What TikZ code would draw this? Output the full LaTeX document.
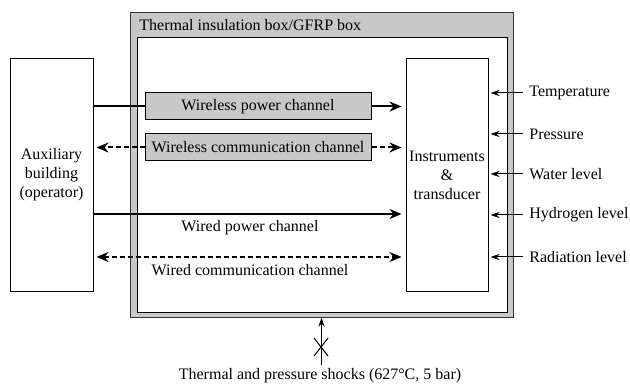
\documentclass[tikz,border=0pt]{standalone}
\usepackage{fontspec}
\setmainfont{Liberation Serif}
\usetikzlibrary{positioning,arrows.meta}
\definecolor{boxgray}{RGB}{200,200,200}

\begin{document}
\begin{tikzpicture}[x=0.5pt,y=-0.5pt,>={Stealth[length=6pt,width=5pt]},font=\fontsize{8}{9.5}\selectfont]
  \tikzset{
    blk/.style={draw,line width=0.5pt,align=center,inner sep=0pt},
    chan/.style={blk,fill=boxgray},
    pow/.style={line width=1pt},
    com/.style={line width=1pt,dash pattern=on 2.5pt off 1.5pt},
    sens/.style={line width=0.5pt,-{Stealth[length=4.5pt,width=3pt]}}
  }
  \useasboundingbox (0,0) rectangle (630,384);
  % insulation box
  \node[blk,fill=boxgray,draw=black!80,minimum width=191.5pt,minimum height=152pt] (box) at (321.5,165) {};
  \node[blk,fill=white,minimum width=185pt,minimum height=137pt] (inner) at (322,175) {};
  \node[anchor=west,inner sep=0pt] (title) at (139,25) {Thermal insulation box/GFRP box};
  % blocks
  \node[blk,minimum width=41.5pt,minimum height=116pt] (aux) at (51.5,175) {Auxiliary\\building\\(operator)};
  \node[blk,minimum width=41pt,minimum height=116pt] (instr) at (447,175) {Instruments\\\&\\transducer};
  \node[chan,minimum width=113pt,minimum height=13.5pt] (wpow) at (258,106.5) {Wireless power channel};
  \node[chan,minimum width=113pt,minimum height=13.5pt] (wcom) at (258,147.5) {Wireless communication channel};
  % wireless
  \draw[pow] (aux.east |- wpow) -- (wpow.west);
  \draw[pow,->,shorten >=2pt] (wpow.east) -- (instr.west |- wpow);
  \draw[com,->,shorten >=1.5pt] (wcom.west) -- (aux.east |- wcom);
  \draw[com,->,shorten >=2pt] (wcom.east) -- (instr.west |- wcom);
  % wired
  \coordinate (wpw) at (250,214);
  \coordinate (wcm) at (250,257);
  \draw[pow,->,shorten >=2pt] (aux.east |- wpw) -- (instr.west |- wpw);
  \draw[com,<->,shorten <=1.5pt,shorten >=2pt] (aux.east |- wcm) -- (instr.west |- wcm);
  \node (wpwl) at (250,228) {Wired power channel};
  \node (wcml) at (250,270) {Wired communication channel};
  % measured quantities
  \foreach \t/\y [count=\i] in {Temperature/93,Pressure/134,Water level/174,Hydrogen level/215,Radiation level/257}{
    \node[anchor=west,inner sep=1.5pt] (s\i) at (526,\y) {\t};
    \draw[sens,shorten >=1pt] ([xshift=-1.5pt]s\i.west) -- (instr.east |- s\i);
  }
  % shocks
  \coordinate (shk) at (box.south |- 0,365);
  \draw[sens] (shk) -- (box.south);
  \draw[line width=0.5pt] (314,338) -- (328,356) (314,356) -- (328,338);
  \node (shkl) at (320,376) {Thermal and pressure shocks (627°C, 5 bar)};
\end{tikzpicture}
\end{document}
